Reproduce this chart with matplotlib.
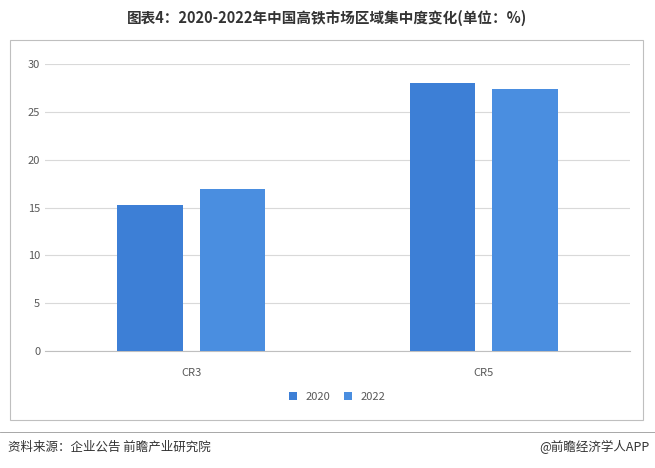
import matplotlib
matplotlib.use('Agg')
import matplotlib.pyplot as plt
from matplotlib.patches import Rectangle
import numpy as np

plt.rcParams['font.family'] = ['Noto Sans CJK SC', 'DejaVu Sans']

categories = ['CR3', 'CR5']
series = ['2020', '2022']
values = {'2020': [15.3, 28.0], '2022': [16.9, 27.4]}
colors = {'2020': '#3d7fd6', '2022': '#4a8ee0'}
yticks = [0, 5, 10, 15, 20, 25, 30]

W, H = 655, 468
fig = plt.figure(figsize=(W/100, H/100), dpi=100)
fig.patches.append(Rectangle((10/W, 1-420/H), 633/W, 380/H, transform=fig.transFigure,
                             fill=False, edgecolor='#bfbfbf', linewidth=0.8))
ax = fig.add_axes([45/W, 1-351/H, 585/W, 287/H])
x = np.arange(len(categories))
bw = 0.225
off = 0.141
for i, s in enumerate(series):
    ax.bar(x + (i*2-1)*off, values[s], width=bw, color=colors[s], label=s, zorder=3)
ax.set_xlim(-0.5, 1.5)
ax.set_ylim(0, 30)
ax.set_yticks(yticks)
ax.set_xticks(x)
ax.set_xticklabels(categories)
ax.grid(axis='y', color='#d9d9d9', linewidth=0.8, zorder=0)
for sp in ['top', 'right', 'left']:
    ax.spines[sp].set_visible(False)
ax.spines['bottom'].set_color('#bfbfbf')
ax.tick_params(axis='both', length=0, labelsize=8, colors='#595959')
ax.tick_params(axis='x', pad=12)
ax.legend(loc='center', bbox_to_anchor=(0.5, 1-(397-64)/287), ncol=2, frameon=False,
          fontsize=8, handlelength=0.7, handleheight=0.7, columnspacing=1.2, labelcolor='#595959')

fig.text(0.5, 1-18/H, '图表4：2020-2022年中国高铁市场区域集中度变化(单位：%)', ha='center', va='center',
         fontsize=10.5, fontweight='bold', color='#333333')
fig.add_artist(plt.Line2D([0, 1], [1-432/H, 1-432/H], color='#999999', linewidth=0.6, transform=fig.transFigure))
fig.text(8/W, 1-447/H, '资料来源：企业公告 前瞻产业研究院', ha='left', va='center', fontsize=9, color='#333333')
fig.text(650/W, 1-447/H, '@前瞻经济学人APP', ha='right', va='center', fontsize=9, color='#333333')
fig.savefig('out.png', dpi=100)
